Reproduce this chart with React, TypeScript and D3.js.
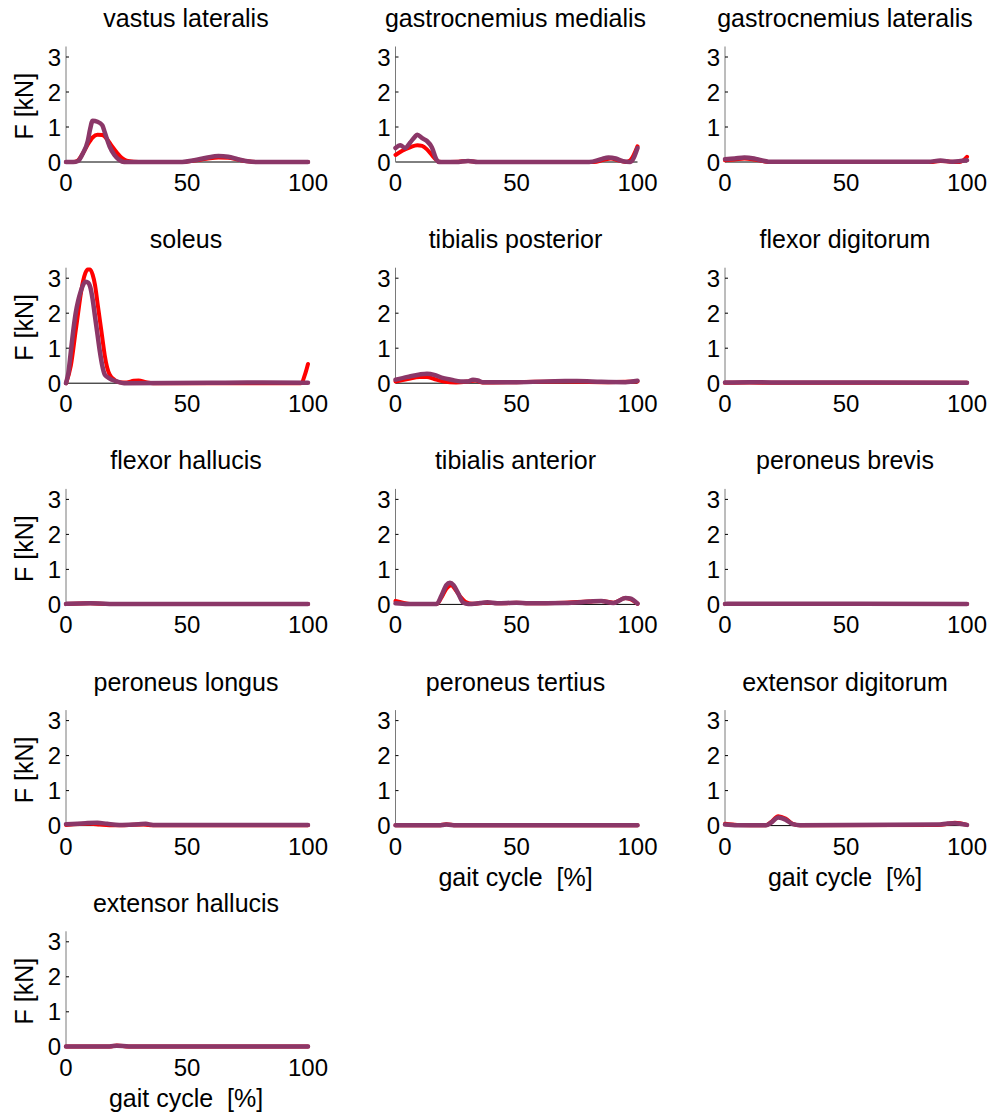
import React from "react";
import * as d3 from "d3";

type Pt = [number, number];

// Muscle names, in panel order (row-major, 3 columns)
const muscles: string[] = [
  "vastus lateralis",
  "gastrocnemius medialis",
  "gastrocnemius lateralis",
  "soleus",
  "tibialis posterior",
  "flexor digitorum",
  "flexor hallucis",
  "tibialis anterior",
  "peroneus brevis",
  "peroneus longus",
  "peroneus tertius",
  "extensor digitorum",
  "extensor hallucis",
];

const yTicks = [0, 1, 2, 3];
const xTicks = [0, 50, 100];

// Force [kN] over gait cycle [%] — red series
const redVL: Pt[] = [[0,0],[3,0],[5,0.05],[7,0.25],[9,0.5],[11,0.7],[13,0.78],[15,0.77],[17,0.65],[19,0.45],[21,0.27],[23,0.12],[25,0.04],[28,0.01],[32,0],[48,0],[53,0.04],[58,0.09],[63,0.13],[67,0.12],[71,0.07],[75,0.02],[79,0],[100,0]];
const redGM: Pt[] = [[0,0.2],[3,0.33],[6,0.42],[9,0.48],[11,0.46],[13,0.36],[15,0.2],[17,0.05],[19,0],[26,0.01],[30,0.03],[34,0],[82,0],[86,0.06],[89,0.1],[92,0.05],[95,0],[97,0.05],[100,0.45]];
const redGL: Pt[] = [[0,0.05],[4,0.07],[8,0.1],[12,0.07],[16,0.02],[19,0],[85,0],[89,0.03],[93,0.01],[97,0],[100,0.15]];
const redSO: Pt[] = [[0,0],[2,0.5],[4,1.5],[5,2.0],[6,2.5],[7,2.9],[8,3.15],[9,3.25],[10,3.25],[11,3.1],[12,2.8],[13,2.3],[14,1.8],[15,1.3],[16,0.8],[17,0.45],[18,0.25],[20,0.1],[22,0.03],[25,0.02],[28,0.07],[30,0.08],[33,0.03],[36,0],[97,0],[99,0.3],[100,0.55]];
const redTP: Pt[] = [[0,0.05],[5,0.12],[10,0.18],[13,0.18],[16,0.12],[20,0.05],[25,0.02],[30,0.05],[33,0.08],[36,0.02],[50,0.03],[70,0.05],[85,0.03],[100,0.05]];
const redFD: Pt[] = [[0,0.01],[10,0.02],[20,0.01],[100,0.01]];
const redFH: Pt[] = [[0,0.01],[10,0.03],[18,0.01],[100,0.01]];
const redTA: Pt[] = [[0,0.1],[3,0.05],[6,0.01],[17,0.01],[19,0.2],[21,0.45],[23,0.55],[25,0.4],[27,0.2],[29,0.07],[32,0.02],[37,0.05],[40,0.04],[45,0.03],[50,0.05],[55,0.03],[70,0.05],[80,0.08],[85,0.1],[90,0.05],[95,0.18],[97,0.15],[100,0.02]];
const redPB: Pt[] = [[0,0.01],[15,0.015],[100,0.01]];
const redPL: Pt[] = [[0,0.02],[10,0.05],[14,0.03],[20,0.01],[32,0.03],[36,0.01],[100,0.01]];
const redPT: Pt[] = [[0,0.01],[18,0.01],[21,0.04],[25,0.01],[100,0.01]];
const redED: Pt[] = [[0,0.05],[5,0.02],[17,0.01],[19,0.1],[22,0.27],[25,0.2],[28,0.05],[31,0.01],[88,0.02],[92,0.05],[95,0.08],[100,0.02]];
const redEH: Pt[] = [[0,0.01],[18,0.01],[21,0.04],[26,0.01],[100,0.01]];

// Purple series
const purVL: Pt[] = [[0,0],[3,0],[5,0.03],[7,0.25],[9,0.6],[10,0.95],[11,1.18],[13,1.15],[15,1.05],[16,0.85],[18,0.45],[20,0.2],[22,0.06],[24,0],[48,0],[53,0.05],[58,0.12],[63,0.17],[67,0.15],[71,0.08],[75,0.02],[79,0],[100,0]];
const purGM: Pt[] = [[0,0.4],[2,0.48],[4,0.4],[6,0.55],[8,0.72],[9,0.78],[11,0.68],[13,0.6],[15,0.42],[17,0.06],[18,0],[25,0],[30,0.03],[34,0],[80,0],[85,0.08],[88,0.13],[91,0.1],[94,0.02],[97,0],[100,0.4]];
const purGL: Pt[] = [[0,0.08],[4,0.1],[8,0.13],[12,0.1],[15,0.05],[18,0.01],[84,0.01],[89,0.04],[94,0.01],[100,0.05]];
const purSO: Pt[] = [[0,0],[1,0.3],[2,0.9],[3,1.5],[4,2.0],[5,2.35],[6,2.6],[7,2.8],[8,2.9],[9,2.88],[10,2.75],[11,2.4],[12,1.9],[13,1.4],[14,0.9],[15,0.5],[16,0.25],[17,0.18],[19,0.1],[21,0.05],[24,0],[60,0.01],[75,0.02],[100,0.01]];
const purTP: Pt[] = [[0,0.1],[5,0.18],[10,0.25],[13,0.27],[16,0.24],[19,0.16],[23,0.1],[27,0.05],[30,0.05],[32,0.1],[34,0.08],[36,0.03],[50,0.03],[70,0.06],[75,0.06],[85,0.04],[95,0.03],[100,0.07]];
const purFD: Pt[] = [[0,0.02],[10,0.03],[20,0.02],[100,0.015]];
const purFH: Pt[] = [[0,0.015],[10,0.03],[18,0.015],[100,0.01]];
const purTA: Pt[] = [[0,0.03],[5,0.01],[17,0.01],[19,0.25],[21,0.55],[22.5,0.62],[24,0.55],[26,0.3],[28,0.05],[30,0.01],[35,0.04],[38,0.06],[42,0.03],[50,0.05],[55,0.03],[70,0.04],[80,0.08],[85,0.1],[90,0.04],[95,0.18],[97,0.17],[100,0.02]];
const purPB: Pt[] = [[0,0.015],[15,0.02],[100,0.015]];
const purPL: Pt[] = [[0,0.04],[8,0.07],[13,0.08],[17,0.05],[22,0.02],[30,0.04],[33,0.05],[36,0.02],[100,0.02]];
const purPT: Pt[] = [[0,0.01],[18,0.01],[21,0.03],[25,0.01],[100,0.01]];
const purED: Pt[] = [[0,0.03],[5,0.01],[17,0.01],[19,0.08],[22,0.23],[25,0.17],[28,0.04],[31,0.01],[88,0.03],[92,0.06],[95,0.07],[100,0.02]];
const purEH: Pt[] = [[0,0.01],[18,0.01],[21,0.03],[26,0.01],[100,0.01]];

const redSeries: Pt[][] = [redVL, redGM, redGL, redSO, redTP, redFD, redFH, redTA, redPB, redPL, redPT, redED, redEH];
const purpleSeries: Pt[][] = [purVL, purGM, purGL, purSO, purTP, purFD, purFH, purTA, purPB, purPL, purPT, purED, purEH];

const W = 997;
const H = 1117;
const COLS = 3;
const left0 = 66;
const colStep = 329.5;
const plotW = 242;
const zero0 = 162;
const rowStep = 221.2;
const yMax = 3.3;
const pxPerKN = 35;
const plotH = yMax * pxPerKN;

const RED = "#ff0000";
const PURPLE = "#8b3768";
const FONT = "'Liberation Sans', Arial, sans-serif";
const TITLE_SIZE = 25;
const TICK_SIZE = 24;

function Panel({ idx }: { idx: number }) {
  const col = idx % COLS;
  const row = Math.floor(idx / COLS);
  const x0 = left0 + col * colStep;
  const yZero = zero0 + row * rowStep;
  const x = d3.scaleLinear().domain([0, 100]).range([x0, x0 + plotW]);
  const y = d3.scaleLinear().domain([0, yMax]).range([yZero, yZero - plotH]);
  const line = d3
    .line<Pt>()
    .x((d) => x(d[0]))
    .y((d) => y(d[1]))
    .curve(d3.curveMonotoneX);
  const total = muscles.length;
  const showXLabel = idx + COLS >= total;
  const showYLabel = col === 0;
  return (
    <g>
      <text
        x={x0 + plotW / 2 - 1}
        y={yZero - 135}
        textAnchor="middle"
        fontSize={TITLE_SIZE}
        fontFamily={FONT}
      >
        {muscles[idx]}
      </text>
      <line x1={x(0)} x2={x(100)} y1={y(0)} y2={y(0)} stroke="#000" strokeWidth={1} />
      <line x1={x(0)} x2={x(0)} y1={y(0)} y2={y(yMax)} stroke="#7a7a7a" strokeWidth={1} />
      {yTicks.map((t) => (
        <g key={t}>
          {t > 0 && (
            <line x1={x(0)} x2={x(0) + 3} y1={y(t)} y2={y(t)} stroke="#000" strokeWidth={1} />
          )}
          <text
            x={x(0) - 5}
            y={y(t)}
            dy="0.36em"
            textAnchor="end"
            fontSize={TICK_SIZE}
            fontFamily={FONT}
          >
            {t}
          </text>
        </g>
      ))}
      {xTicks.map((t) => (
        <text
          key={t}
          x={x(t)}
          y={yZero + 29}
          textAnchor="middle"
          fontSize={TICK_SIZE}
          fontFamily={FONT}
        >
          {t}
        </text>
      ))}
      <path d={line(redSeries[idx]) || ""} fill="none" stroke={RED} strokeWidth={4} strokeLinejoin="round" strokeLinecap="round" />
      <path d={line(purpleSeries[idx]) || ""} fill="none" stroke={PURPLE} strokeWidth={4.5} strokeLinejoin="round" strokeLinecap="round" />
      {showYLabel && (
        <text
          transform={`translate(${x0 - 33},${yZero - plotH / 2 + 2}) rotate(-90)`}
          textAnchor="middle"
          fontSize={TITLE_SIZE}
          fontFamily={FONT}
        >
          F [kN]
        </text>
      )}
      {showXLabel && (
        <text
          x={x0 + plotW / 2 - 1}
          y={yZero + 60}
          textAnchor="middle"
          fontSize={TITLE_SIZE}
          fontFamily={FONT}
          style={{ whiteSpace: "pre" }}
        >
          {"gait cycle  [%]"}
        </text>
      )}
    </g>
  );
}

export default function App() {
  return (
    <>
      <style>{"body{margin:0}"}</style>
      <svg width={W} height={H} style={{ display: "block", background: "#fff" }}>
        <rect width={W} height={H} fill="#fff" />
        {muscles.map((_, i) => (
          <Panel key={i} idx={i} />
        ))}
      </svg>
    </>
  );
}
